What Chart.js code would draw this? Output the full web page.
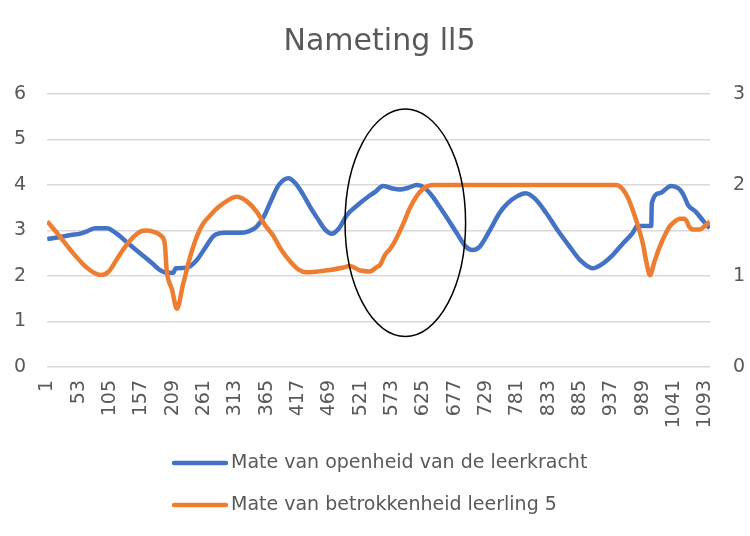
<!DOCTYPE html>
<html>
<head>
<meta charset="utf-8">
<title>Nameting ll5</title>
<script src="https://cdn.jsdelivr.net/npm/chart.js@4.4.0/dist/chart.umd.min.js"></script>
<style>
  html, body { margin: 0; padding: 0; background: #fff; }
  #wrap { width: 750px; height: 536px; }
</style>
</head>
<body>
<div id="wrap"><canvas id="nametingChart" width="750" height="536"></canvas></div>
<script>
// tijdstippen (x) en waarden
const openheidX = [1, 20, 40, 56, 70, 80, 100, 116, 135, 155, 175, 188, 200, 210, 214, 232, 249, 262, 277, 295, 320, 335, 348, 360, 372, 385, 401, 412, 425, 437, 450, 462, 473, 485, 498, 515, 531, 545, 558, 572, 586, 600, 614, 626, 640, 652, 663, 680, 695, 706, 718, 735, 751, 765, 780, 795, 810, 829, 848, 868, 885, 906, 920, 939, 955, 972, 980, 1003, 1004, 1017, 1036, 1048, 1055, 1058, 1062, 1064, 1077, 1090, 1100];
const openheidY = [2.81, 2.85, 2.9, 2.93, 3.0, 3.05, 3.05, 2.93, 2.72, 2.5, 2.28, 2.13, 2.07, 2.07, 2.17, 2.18, 2.35, 2.6, 2.88, 2.95, 2.95, 2.98, 3.08, 3.3, 3.65, 4.0, 4.15, 4.05, 3.8, 3.52, 3.25, 3.02, 2.93, 3.05, 3.34, 3.55, 3.72, 3.85, 3.98, 3.93, 3.9, 3.94, 4.0, 3.95, 3.75, 3.52, 3.3, 2.95, 2.65, 2.57, 2.64, 3.0, 3.38, 3.6, 3.75, 3.82, 3.7, 3.38, 3.0, 2.64, 2.35, 2.17, 2.25, 2.46, 2.7, 2.94, 3.1, 3.1, 3.6, 3.82, 3.98, 3.93, 3.82, 3.74, 3.62, 3.56, 3.41, 3.2, 3.05];

const betrokkenX = [1, 20, 44, 65, 80, 91, 103, 116, 130, 144, 156, 166, 180, 190, 196, 199, 208, 216, 226, 238, 250, 260, 272, 282, 298, 315, 332, 348, 362, 375, 390, 404, 418, 431, 450, 470, 490, 503, 520, 536, 548, 553, 561, 570, 580, 592, 602, 614, 625, 641, 945, 956, 965, 972, 981, 989, 995, 1001, 1008, 1017, 1025, 1033, 1042, 1050, 1058, 1062, 1066, 1074, 1083, 1092, 1100];
const betrokkenY = [1.6, 1.45, 1.25, 1.1, 1.03, 1.01, 1.05, 1.18, 1.32, 1.43, 1.49, 1.5, 1.48, 1.44, 1.35, 1.07, 0.85, 0.64, 0.9, 1.21, 1.45, 1.58, 1.67, 1.74, 1.82, 1.87, 1.82, 1.71, 1.56, 1.45, 1.28, 1.16, 1.07, 1.04, 1.05, 1.065, 1.09, 1.11, 1.06, 1.05, 1.1, 1.12, 1.23, 1.3, 1.41, 1.58, 1.74, 1.88, 1.96, 2.0, 2.0, 1.95, 1.85, 1.73, 1.55, 1.36, 1.15, 1.01, 1.15, 1.32, 1.44, 1.54, 1.6, 1.63, 1.63, 1.6, 1.54, 1.51, 1.51, 1.55, 1.6];

const xTicks = [1, 53, 105, 157, 209, 261, 313, 365, 417, 469, 521, 573, 625, 677, 729, 781, 833, 885, 937, 989, 1041, 1093];
const seriesNames = ['Mate van openheid van de leerkracht', 'Mate van betrokkenheid leerling 5'];

// de ellips rond het stuk rond 573-625 (in waarden van de x-as en linker y-as)
const ellipsMidden = { x: 595, y: 3.17 };
const ellipsStraal = { x: 100, y: 2.5 };

const tekstKleur = '#595959';
const fontFamily = "'DejaVu Sans', sans-serif";

function punten(xs, ys) {
    return xs.map((x, i) => ({ x: x, y: ys[i] }));
}

const ellipsPlugin = {
    id: 'ellips',
    afterDatasetsDraw(chart) {
        const xs = chart.scales.x, ys = chart.scales.y;
        const cx = xs.getPixelForValue(ellipsMidden.x);
        const cy = ys.getPixelForValue(ellipsMidden.y);
        const rx = Math.abs(xs.getPixelForValue(ellipsMidden.x + ellipsStraal.x) - cx);
        const ry = Math.abs(ys.getPixelForValue(ellipsMidden.y + ellipsStraal.y) - cy);
        const ctx = chart.ctx;
        ctx.save();
        ctx.beginPath();
        ctx.ellipse(cx, cy, rx, ry, 0, 0, Math.PI * 2);
        ctx.strokeStyle = '#000';
        ctx.lineWidth = 1.5;
        ctx.stroke();
        ctx.restore();
    }
};

// legenda onder elkaar, links uitgelijnd (zoals in Excel)
const legendaPlugin = {
    id: 'legenda',
    afterDraw(chart) {
        const ctx = chart.ctx;
        ctx.save();
        ctx.font = '19px ' + fontFamily;
        ctx.textBaseline = 'middle';
        ctx.textAlign = 'left';
        chart.data.datasets.forEach((ds, i) => {
            const y = 463 + i * 42;
            ctx.beginPath();
            ctx.moveTo(174, y);
            ctx.lineTo(226, y);
            ctx.strokeStyle = ds.borderColor;
            ctx.lineWidth = 4.5;
            ctx.lineCap = 'round';
            ctx.stroke();
            ctx.fillStyle = tekstKleur;
            ctx.fillText(ds.label, 231, y);
        });
        ctx.restore();
    }
};

const ctx = document.getElementById('nametingChart').getContext('2d');

const nametingChart = new Chart(ctx, {
    type: 'line',
    data: {
        datasets: [{
            label: seriesNames[0],
            data: punten(openheidX, openheidY),
            borderColor: '#4472C4',
            backgroundColor: '#4472C4',
            borderWidth: 4.5,
            pointRadius: 0,
            cubicInterpolationMode: 'monotone',
            yAxisID: 'y',
            order: 1
        }, {
            label: seriesNames[1],
            data: punten(betrokkenX, betrokkenY),
            borderColor: '#ED7D31',
            backgroundColor: '#ED7D31',
            borderWidth: 4.5,
            pointRadius: 0,
            cubicInterpolationMode: 'monotone',
            yAxisID: 'y1',
            order: 0
        }]
    },
    options: {
        responsive: false,
        animation: false,
        layout: {
            padding: { left: 14, right: 5, top: 0, bottom: 108 }
        },
        plugins: {
            legend: { display: false },
            tooltip: { enabled: false },
            title: {
                display: true,
                text: 'Nameting ll5',
                color: tekstKleur,
                font: { family: fontFamily, size: 30, weight: 'normal' },
                padding: { top: 24, bottom: 34 }
            }
        },
        scales: {
            x: {
                type: 'linear',
                min: 0.5,
                max: 1100.5,
                afterBuildTicks(axis) {
                    axis.ticks = xTicks.map(v => ({ value: v }));
                },
                afterFit(axis) { axis.height = 61; },
                grid: { display: false, drawTicks: false },
                border: { display: false },
                ticks: {
                    autoSkip: false,
                    minRotation: 90,
                    maxRotation: 90,
                    padding: 13,
                    color: tekstKleur,
                    font: { family: fontFamily, size: 19 },
                    callback: v => String(v)
                }
            },
            y: {
                position: 'left',
                min: 0,
                max: 6,
                afterFit(axis) { axis.width = 33; },
                ticks: {
                    stepSize: 1,
                    padding: 21,
                    color: tekstKleur,
                    font: { family: fontFamily, size: 19 }
                },
                grid: { color: '#d9d9d9', lineWidth: 1.6, drawTicks: false },
                border: { display: false }
            },
            y1: {
                position: 'right',
                min: 0,
                max: 3,
                afterFit(axis) { axis.width = 35; },
                ticks: {
                    stepSize: 1,
                    padding: 23,
                    color: tekstKleur,
                    font: { family: fontFamily, size: 19 }
                },
                grid: { display: false, drawTicks: false },
                border: { display: false }
            }
        }
    },
    plugins: [ellipsPlugin, legendaPlugin]
});
</script>
</body>
</html>
